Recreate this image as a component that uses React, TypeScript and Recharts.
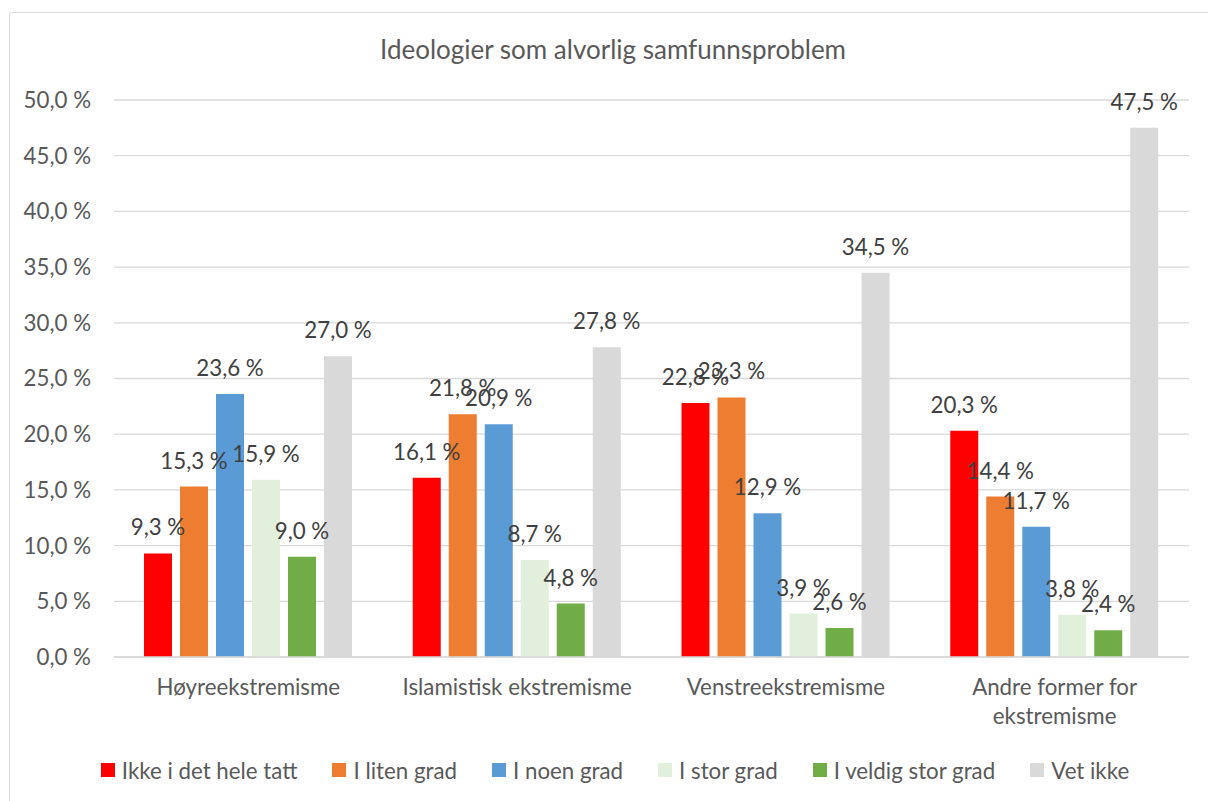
import React from "react";
import {
  BarChart,
  Bar,
  XAxis,
  YAxis,
  CartesianGrid,
  LabelList,
} from "recharts";

const categories = [
  "Høyreekstremisme",
  "Islamistisk ekstremisme",
  "Venstreekstremisme",
  "Andre former for ekstremisme",
];

const seriesNames = [
  "Ikke i det hele tatt",
  "I liten grad",
  "I noen grad",
  "I stor grad",
  "I veldig stor grad",
  "Vet ikke",
];

const ikkeIDetHeleTatt = [9.3, 16.1, 22.8, 20.3];
const iLitenGrad = [15.3, 21.8, 23.3, 14.4];
const iNoenGrad = [23.6, 20.9, 12.9, 11.7];
const iStorGrad = [15.9, 8.7, 3.9, 3.8];
const iVeldigStorGrad = [9.0, 4.8, 2.6, 2.4];
const vetIkke = [27.0, 27.8, 34.5, 47.5];

const yTicks = [0, 5, 10, 15, 20, 25, 30, 35, 40, 45, 50];

const seriesValues = [
  ikkeIDetHeleTatt,
  iLitenGrad,
  iNoenGrad,
  iStorGrad,
  iVeldigStorGrad,
  vetIkke,
];
const colors = ["#FF0000", "#ED7D31", "#5B9BD5", "#E2EFDA", "#70AD47", "#D9D9D9"];

const data = categories.map((name, i) => {
  const row: Record<string, string | number> = { name };
  seriesNames.forEach((s, j) => {
    row[s] = seriesValues[j][i];
  });
  return row;
});

const FONT = "Lato, 'Open Sans', sans-serif";
const FS = 22.3;
const pct = (v: number) => `${Number(v).toFixed(1).replace(".", ",")} %`;

// greedy word wrap by character count
const wrap = (label: string, maxChars = 24) => {
  const lines: string[] = [];
  let cur = "";
  label.split(" ").forEach((w) => {
    const next = cur ? `${cur} ${w}` : w;
    if (next.length > maxChars && cur) {
      lines.push(cur);
      cur = w;
    } else {
      cur = next;
    }
  });
  if (cur) lines.push(cur);
  return lines;
};

const CategoryTick = (props: any) => {
  const { x, y, payload } = props;
  return (
    <text
      x={x}
      y={y + 15}
      textAnchor="middle"
      fill="#595959"
      fontSize={FS}
      fontFamily={FONT}
    >
      {wrap(String(payload.value)).map((line, i) => (
        <tspan key={i} x={x} dy={i === 0 ? 0 : 29}>
          {line}
        </tspan>
      ))}
    </text>
  );
};

const ValueLabel = (props: any) => {
  const { x, y, width, value } = props;
  return (
    <text
      x={x + width / 2}
      y={y - 18}
      textAnchor="middle"
      fill="#404040"
      fontSize={FS}
      fontFamily={FONT}
    >
      {pct(value)}
    </text>
  );
};

export default function App() {
  return (
    <div
      style={{
        position: "absolute",
        left: 0,
        top: 0,
        width: 1208,
        height: 801,
        overflow: "hidden",
        background: "#fff",
        fontFamily: FONT,
      }}
    >
      <style>{`body{margin:0}`}</style>
      <div
        style={{
          position: "absolute",
          left: 9,
          top: 12,
          width: 1240,
          height: 840,
          border: "1.5px solid #d9d9d9",
          borderRadius: 3,
        }}
      />
      <div
        style={{
          position: "absolute",
          left: 0,
          width: 1226,
          top: 33,
          textAlign: "center",
          fontSize: 26,
          lineHeight: "32px",
          color: "#595959",
        }}
      >
        Ideologier som alvorlig samfunnsproblem
      </div>
      <div style={{ position: "absolute", left: 0, top: 0 }}>
        <BarChart
          width={1208}
          height={801}
          data={data}
          margin={{ top: 100, right: 19, left: 0, bottom: 114 }}
          barSize={28}
          barGap={8}
        >
          <CartesianGrid vertical={false} stroke="#d9d9d9" strokeWidth={1.3} />
          <XAxis
            dataKey="name"
            height={30}
            axisLine={{ stroke: "#d9d9d9", strokeWidth: 1.3 }}
            tickLine={false}
            tickMargin={17}
            interval={0}
            tick={<CategoryTick />}
          />
          <YAxis
            width={114}
            domain={[0, 50]}
            ticks={yTicks}
            axisLine={false}
            tickLine={false}
            tickMargin={17}
            tickFormatter={pct}
            tick={{ fill: "#595959", fontSize: FS, fontFamily: FONT }}
          />
          {seriesNames.map((s, j) => (
            <Bar key={s} dataKey={s} fill={colors[j]} isAnimationActive={false}>
              <LabelList dataKey={s} content={<ValueLabel />} />
            </Bar>
          ))}
        </BarChart>
      </div>
      <div
        style={{
          position: "absolute",
          left: 0,
          width: 1230,
          top: 755,
          display: "flex",
          justifyContent: "center",
          gap: 35,
          fontSize: FS,
          color: "#595959",
        }}
      >
        {seriesNames.map((s, j) => (
          <div key={s} style={{ display: "flex", alignItems: "center", height: 30 }}>
            <span
              style={{
                display: "inline-block",
                width: 14,
                height: 14,
                background: colors[j],
                marginRight: 7,
              }}
            />
            <span>{s}</span>
          </div>
        ))}
      </div>
    </div>
  );
}
